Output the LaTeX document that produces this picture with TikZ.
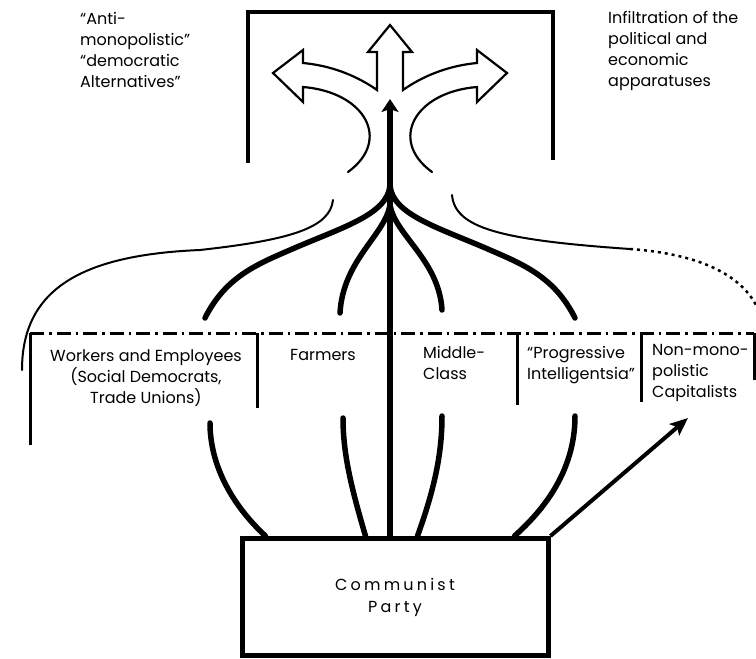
\documentclass[tikz,border=0pt]{standalone}
\usepackage{fontspec}
\setmainfont{Poppins}
\usetikzlibrary{arrows.meta, positioning}

\tikzset{
  grouptext/.style={align=left, inner sep=0pt, font=\fontsize{16}{21}\selectfont},
  thincurve/.style={line width=2pt, line cap=round},
  thickcurve/.style={line width=5.5pt, line cap=round},
  sepline/.style={line width=3pt}
}

\begin{document}
\begin{tikzpicture}[x=1pt, y=-1pt]
\useasboundingbox (0,0) rectangle (756,659);

\draw[line width=4pt] (248,163) -- (248,12) -- (553,12) -- (553,160);
\node [grouptext, anchor=north west] (anti) at (80,12) {“Anti-\\monopolistic”\\“democratic\\Alternatives”};
\node [grouptext, anchor=north west] (infil) at (608,11) {Infiltration of the\\political and\\economic\\apparatuses};

\draw[line width=2.2pt, line join=miter, line cap=round] (348,172) .. controls (392,140) and (365,92) .. (303,87) -- (303,102) -- (273,73) -- (303,50) -- (303,63) .. controls (335,66) and (360,78) .. (377,90) -- (377,52) -- (368,52) -- (390,25) -- (412,52) -- (403,52) -- (403,90) .. controls (420,78) and (445,66) .. (477,63) -- (477,50) -- (507,73) -- (477,102) -- (477,87) .. controls (415,92) and (388,140) .. (432,172);

\node [draw, line width=5pt, minimum width=306pt, minimum height=117pt, align=center, font=\fontsize{16}{22}\selectfont\addfontfeature{LetterSpace=20}] (party) at (395,597) {Communist\\Party};

\draw[line width=3pt, dash pattern=on 14pt off 5pt on 2.5pt off 5pt] (30,333) -- (754,333);
\draw[sepline] (30,333) -- (30,445);
\draw[sepline] (754,333) -- (754,380);
\draw[sepline] (257,333) -- (257,408);
\draw[sepline] (517,333) -- (517,405);
\draw[sepline] (641,333) -- (641,402);

\node [grouptext, align=center, anchor=north] (workers) at (146,349) {Workers and Employees\\(Social Democrats,\\Trade Unions)};
\node [grouptext, anchor=north west] (farmers) at (290,349) {Farmers};
\node [grouptext, anchor=north west] (middle) at (423,346) {Middle-\\Class};
\node [grouptext, anchor=north west] (intell) at (527,346) {“Progressive\\Intelligentsia”};
\node [grouptext, anchor=north west] (capital) at (652,344) {Non-mono-\\polistic\\Capitalists};

\coordinate (stemtip) at (390,99);
\draw[line width=5.5pt, -{Stealth[length=13pt, width=17pt, inset=3pt]}] (stemtip |- party.north) -- (stemtip);

\draw[thickcurve] (205,318) .. controls (225,278) and (255,265) .. (290,250) .. controls (340,228) and (388,215) .. (390,185);
\draw[thickcurve] (340,313) .. controls (343,260) and (385,235) .. (390,205);
\draw[thickcurve] (442,310) .. controls (439,260) and (395,235) .. (390,205);
\draw[thickcurve] (575,318) .. controls (555,278) and (525,265) .. (490,250) .. controls (440,228) and (392,215) .. (390,185);

\draw[thickcurve] ([xshift=26pt]party.north west) .. controls (232,505) and (210,465) .. (210,423);
\draw[thickcurve] ([xshift=126pt]party.north west) .. controls (352,490) and (343,455) .. (343,418);
\draw[thickcurve] ([xshift=178pt]party.north west) .. controls (434,490) and (442,455) .. (442,416);
\draw[thickcurve] ([xshift=275pt]party.north west) .. controls (555,500) and (575,460) .. (575,416);

\coordinate (captip) at (688,418);
\draw[line width=4pt, -{Stealth[length=18pt, width=15pt, inset=4pt]}] (party.north east) -- (captip);

\draw[thincurve] (333,200) .. controls (330,228) and (290,240) .. (200,250) .. controls (80,255) and (22,290) .. (22,370);
\draw[thincurve] (452,195) .. controls (455,228) and (500,240) .. (630,249);
\draw[line width=2.5pt, dash pattern=on 3pt off 4pt] (630,249) .. controls (700,254) and (740,275) .. (756,305);
\end{tikzpicture}
\end{document}
